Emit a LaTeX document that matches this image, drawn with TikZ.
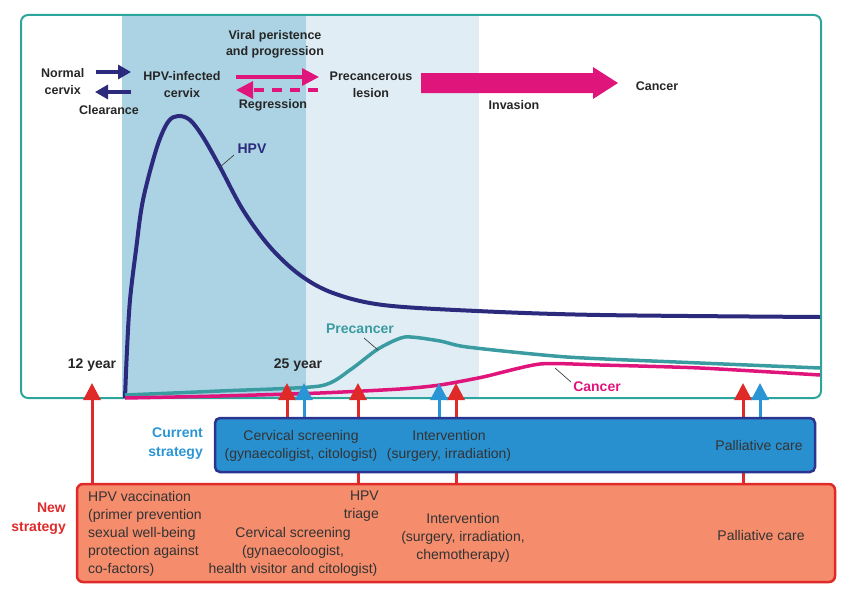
\documentclass[tikz,border=0pt]{standalone}
\usepackage{fontspec}
\setmainfont{Liberation Sans}
\usetikzlibrary{arrows.meta}
\definecolor{navy}{HTML}{2B2A7C}
\definecolor{framet}{HTML}{2EA59C}
\definecolor{tealc}{HTML}{3A9CA0}
\definecolor{magc}{HTML}{E0157B}
\definecolor{bandA}{HTML}{ACD3E3}
\definecolor{bandB}{HTML}{E0EDF5}
\definecolor{bluefill}{HTML}{2990D0}
\definecolor{blueedge}{HTML}{2B3590}
\definecolor{salmon}{HTML}{F58C6C}
\definecolor{redc}{HTML}{E02A2A}
\definecolor{bluea}{HTML}{2A95D5}
\begin{document}
\begin{tikzpicture}[x=1pt,y=-1pt,
  toplbl/.style={font=\fontsize{12.5}{17}\selectfont\bfseries, align=center, inner sep=0pt, text=black!85},
  boxtxt/.style={font=\fontsize{14}{18}\selectfont, align=center, inner sep=0pt, text=black!80},
  curvlbl/.style={font=\fontsize{14}{17}\selectfont\bfseries, inner sep=0pt},
  uparrow/.style={line width=3pt, -{Triangle[width=17pt,length=17pt]}},
  smallarr/.style={line width=3.2pt, -{Triangle[width=14pt,length=13pt]}},
  magarr/.style={line width=3.2pt, magc, -{Triangle[width=17pt,length=17pt]}},
  leader/.style={draw=black!75, line width=0.7pt}
]
\useasboundingbox (0,0) rectangle (850,594);
% bands
\fill[bandA] (122,16) rectangle (306,397);
\fill[bandB] (306,16) rectangle (479,397);
% frame
\draw[framet, line width=2pt, rounded corners=7pt] (21,15) rectangle (821,398);

% curves
\draw[navy, line width=4pt, line join=round] plot[smooth, tension=0.55] coordinates {
 (125,398) (127,350) (130,300) (136,250) (143,200) (157,147) (168,122) (178,116) (190,120) (203,137) (220,167) (243,210) (270,247) (300,275) (333,293) (383,305) (477,311) (600,315) (820,317)};
\draw[tealc, line width=3.5pt, line join=round] plot[smooth, tension=0.4] coordinates {
 (125,395) (220,391) (320,386) (350,370) (378,349) (405,337) (440,341) (467,347) (567,357) (700,363) (820,368)};
\draw[magc, line width=3.5pt, line join=round] plot[smooth, tension=0.4] coordinates {
 (125,398) (220,396) (320,393) (400,389) (440,385) (483,377) (540,364) (600,365) (700,368) (820,375)};

% curve labels
\node[curvlbl, text=navy] (lhpv) at (252,149) {HPV};
\coordinate (hpva) at (220,167);
\coordinate (hpvb) at (234,155);
\draw[leader] (hpva) -- (hpvb);
\node[curvlbl, text=tealc] (lpre) at (360,329) {Precancer};
\coordinate (prea) at (364,338);
\coordinate (preb) at (378,350);
\draw[leader] (prea) -- (preb);
\node[curvlbl, text=magc] (lcan) at (597,387) {Cancer};
\coordinate (cana) at (555,368);
\coordinate (canb) at (571,382);
\draw[leader] (cana) -- (canb);

% year labels
\node[curvlbl, text=black!85] (y12) at (92,365) {12 year};
\node[curvlbl, text=black!85] (y25) at (298,365) {25 year};

% top row
\node[toplbl, anchor=west] (normal) at (41,82) {Normal\\cervix};
\coordinate (n1) at (96,72);
\coordinate (n2) at (131,72);
\coordinate (n3) at (131,92);
\coordinate (n4) at (95,92);
\draw[smallarr, navy] (n1) -- (n2);
\draw[smallarr, navy] (n3) -- (n4);
\node[toplbl] (clear) at (109,110) {Clearance};
\node[toplbl] (infected) at (182,85) {HPV-infected\\cervix};
\node[toplbl, font=\fontsize{12.5}{16}\selectfont\bfseries] (viral) at (275,44) {Viral peristence\\and progression};
\coordinate (m1) at (236,77);
\coordinate (m2) at (319,77);
\coordinate (m3) at (318,90);
\coordinate (m4) at (236,90);
\draw[magarr] (m1) -- (m2);
\draw[magarr, dash pattern=on 10pt off 8pt] (m3) -- (m4);
\node[toplbl] (regr) at (273,105) {Regression};
\node[toplbl] (precl) at (371,85) {Precancerous\\lesion};
\fill[magc] (421,73) -- (593,73) -- (593,67) -- (618,83) -- (593,99) -- (593,93) -- (421,93) -- cycle;
\node[toplbl] (inv) at (514,105) {Invasion};
\node[toplbl] (cancer) at (657,86) {Cancer};

% red arrows from new strategy box (behind blue box)
\coordinate (r1b) at (92,484); \coordinate (r1t) at (92,383);
\coordinate (r3b) at (358,484); \coordinate (r3t) at (358,383);
\coordinate (r4b) at (456,484); \coordinate (r4t) at (456,383);
\coordinate (r5b) at (743,484); \coordinate (r5t) at (743,383);
\coordinate (r2b) at (287,418); \coordinate (r2t) at (287,383);
\draw[uparrow, redc] (r1b) -- (r1t);
\draw[uparrow, redc] (r3b) -- (r3t);
\draw[uparrow, redc] (r4b) -- (r4t);
\draw[uparrow, redc] (r5b) -- (r5t);
\draw[uparrow, redc] (r2b) -- (r2t);
% blue arrows
\coordinate (b1b) at (304,418); \coordinate (b1t) at (304,383);
\coordinate (b2b) at (439,418); \coordinate (b2t) at (439,383);
\coordinate (b3b) at (760,418); \coordinate (b3t) at (760,383);
\draw[uparrow, bluea] (b1b) -- (b1t);
\draw[uparrow, bluea] (b2b) -- (b2t);
\draw[uparrow, bluea] (b3b) -- (b3t);

% current strategy box
\draw[fill=bluefill, draw=blueedge, line width=2.5pt, rounded corners=5pt] (215,418) rectangle (815,472);
\node[curvlbl, text=bluea, align=right, anchor=east, font=\fontsize{14}{19}\selectfont\bfseries] (cur) at (203,444) {Current\\strategy};
\node[boxtxt] (cs1) at (301,446) {Cervical screening\\(gynaecoligist, citologist)};
\node[boxtxt] (ci1) at (449,446) {Intervention\\(surgery, irradiation)};
\node[boxtxt] (cp1) at (759,445) {Palliative care};

% new strategy box
\draw[fill=salmon, draw=redc, line width=2.5pt, rounded corners=6pt] (77,484) rectangle (835,582);
\node[curvlbl, text=redc, align=right, anchor=east, font=\fontsize{14}{19}\selectfont\bfseries] (new) at (66,519) {New\\strategy};
\node[boxtxt, align=left, anchor=north west] (vac) at (88,491) {HPV vaccination\\(primer prevention\\sexual well-being\\protection against\\co-factors)};
\node[boxtxt, align=right, anchor=north east] (tri) at (379,491) {HPV\\triage};
\node[boxtxt, anchor=north] (cs2) at (293,527) {Cervical screening\\(gynaecoloogist,\\health visitor and citologist)};
\node[boxtxt] (ci2) at (463,538) {Intervention\\(surgery, irradiation,\\chemotherapy)};
\node[boxtxt] (cp2) at (761,535) {Palliative care};
\end{tikzpicture}
\end{document}
